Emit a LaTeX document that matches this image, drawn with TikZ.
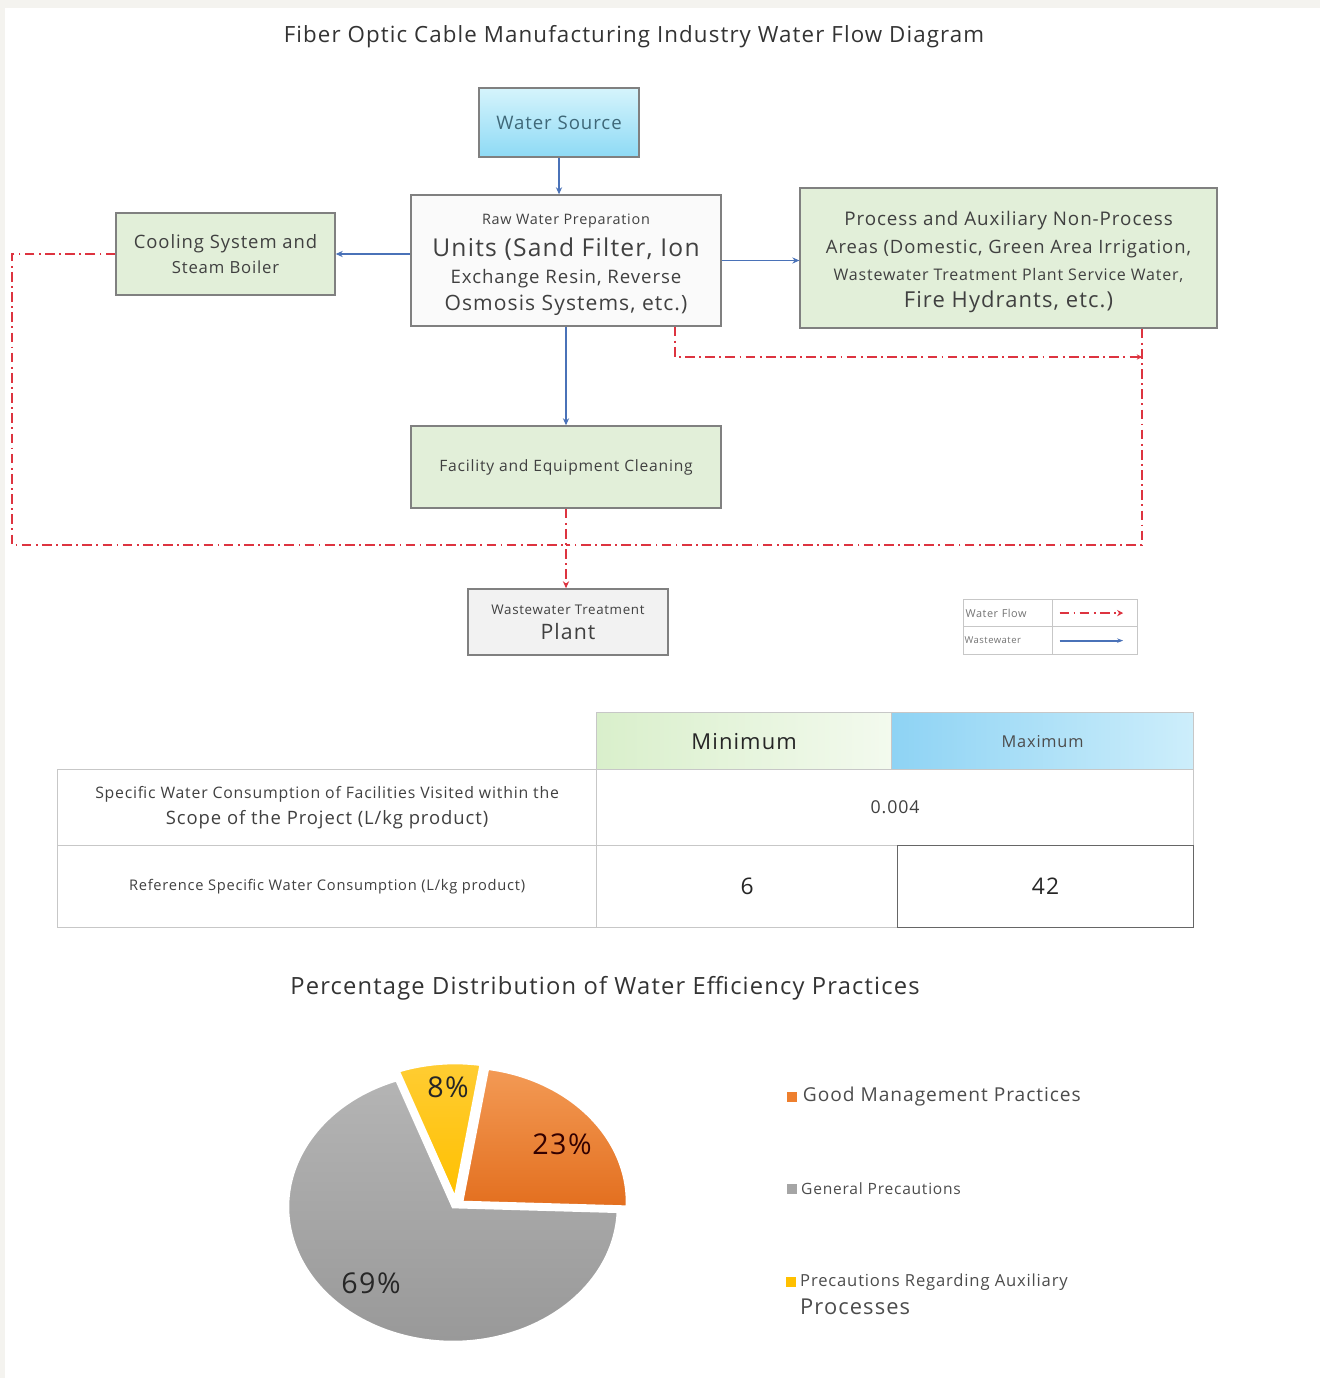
\documentclass[tikz,border=0pt]{standalone}
\usepackage{fontspec}
\setmainfont[LetterSpace=5]{Open Sans}
\usepackage{xcolor}
\usetikzlibrary{positioning, arrows.meta}

\definecolor{flowblue}{HTML}{4A72B8}
\definecolor{wastered}{HTML}{DD3440}
\definecolor{boxgreen}{HTML}{E2EFD9}
\definecolor{pagebeige}{HTML}{F4F3EF}
\definecolor{srctext}{HTML}{3F6878}
\definecolor{srctop}{HTML}{D5F4FC}
\definecolor{srcbottom}{HTML}{8EDAF5}
\definecolor{minleft}{HTML}{D9EFCB}
\definecolor{minright}{HTML}{F3FAEE}
\definecolor{maxleft}{HTML}{8ED3F4}
\definecolor{maxright}{HTML}{CDEEFB}
\definecolor{pieorange}{HTML}{EE7F2E}
\definecolor{orangetop}{HTML}{F39A55}
\definecolor{orangebottom}{HTML}{E36F1F}
\definecolor{piegray}{HTML}{A5A5A5}
\definecolor{graytop}{HTML}{B4B4B4}
\definecolor{graybottom}{HTML}{979797}
\definecolor{pieyellow}{HTML}{FFC000}
\newcommand\fsz[2]{\fontsize{#1}{#2}\selectfont}

\begin{document}
\begin{tikzpicture}[x=0.02cm, y=-0.02cm,
    box/.style={draw=black!50, line width=0.8pt, align=center, text=black!75, inner sep=2pt},
    greenbox/.style={box, fill=boxgreen},
    feed/.style={-{Stealth[length=4pt, width=3.5pt]}, flowblue, line width=1.1pt},
    drain/.style={wastered, line width=1.1pt, dash pattern=on 5.5pt off 2.5pt on 1pt off 2.5pt},
    cell/.style={draw=black!22, line width=0.7pt, anchor=north west, inner sep=0pt, align=center, text=black!75},
    slice/.style={draw=white, line width=1.5pt},
    pct/.style={font=\fsz{16.3}{18}, text=black!85},
    keytext/.style={anchor=west, text=black!70, inner sep=0pt}]
  \useasboundingbox (0,0) rectangle (1320,1378);
  \fill[pagebeige] (0,0) rectangle (1320,1378);
  \fill[white] (5,8) rectangle (1320,1378);

  % flow diagram
  \node[text=black!80, font=\fsz{12.7}{15}] (title) at (634,37)
    {Fiber Optic Cable Manufacturing Industry Water Flow Diagram};
  \node[box, top color=srctop, bottom color=srcbottom, minimum width=3.2cm, minimum height=1.38cm,
    text=srctext, font=\fsz{10.6}{13}] (src) at (559,122.5) {Water Source};
  \node[box, fill=black!2, minimum width=6.2cm, minimum height=2.62cm, font=\fsz{10}{15.5}] (raw) at (566,260.5)
    {\fsz{8.2}{15.5}\rule{0pt}{10.8pt}Raw Water Preparation\\[2.8pt] \fsz{14}{15.5}Units (Sand Filter, Ion\\
     \fsz{10.6}{15.5}Exchange Resin, Reverse\\ \fsz{12}{15.5}Osmosis Systems, etc.)};
  \node[greenbox, minimum width=4.38cm, minimum height=1.64cm, font=\fsz{10}{14.7}] (cool) at (225.5,254)
    {\fsz{10.5}{14.7}Cooling System and\\ \fsz{9.5}{14.7}Steam Boiler};
  \node[greenbox, minimum width=8.34cm, minimum height=2.8cm, font=\fsz{10}{15.5}] (proc) at (1008.5,258)
    {\fsz{10.7}{15.5}\rule{0pt}{12.9pt}Process and Auxiliary Non-Process\\ \fsz{10.5}{15.5}Areas (Domestic, Green Area Irrigation,\\
     \fsz{9.1}{15.5}Wastewater Treatment Plant Service Water,\\ \fsz{12.5}{15.5}Fire Hydrants, etc.)};
  \node[greenbox, minimum width=6.2cm, minimum height=1.64cm, font=\fsz{8.9}{11}] (clean) at (566,467)
    {Facility and Equipment Cleaning};
  \node[box, fill=black!5, minimum width=4cm, minimum height=1.32cm, font=\fsz{10}{14.2}] (wwtp) at (568,622)
    {\fsz{7.6}{14.2}Wastewater Treatment\\ \fsz{12.1}{14.2}Plant};

  \draw[feed] (src.south) -- (src.south |- raw.north);
  \draw[feed] (raw.west |- cool.east) -- (cool.east);
  \draw[feed] (raw.east) -- (raw.east -| proc.west);
  \draw[feed] (raw.south) -- (clean.north);

  \coordinate (jn) at (566,545);
  \coordinate (cornerbl) at (12,545);
  \coordinate (procdrop) at (1142,357);
  \draw[drain] (cool.west) -| (cornerbl) -- (jn);
  \draw[drain, -{Stealth[length=3pt, width=3pt]}] ([xshift=2.18cm]raw.south) |- (procdrop);
  \draw[drain] ([xshift=2.67cm]proc.south) |- (jn);
  \draw[drain, -{Stealth[length=4pt, width=3.5pt]}] (clean.south) -- (clean.south |- wwtp.north);

  % legend of the lines
  \node[cell, minimum width=1.78cm, minimum height=0.54cm, text width=1.7cm, align=left,
    text=black!55, font=\fsz{6.2}{7}] (lgflow) at (963,599) {Water Flow};
  \node[cell, minimum width=1.7cm, minimum height=0.54cm] (lgflowline) at (1052,599) {};
  \node[cell, minimum width=1.78cm, minimum height=0.56cm, text width=1.74cm, align=left,
    text=black!55, font=\fsz{5.4}{6}] (lgwaste) at (963,626) {Wastewater};
  \node[cell, minimum width=1.7cm, minimum height=0.56cm] (lgwasteline) at (1052,626) {};
  \draw[drain, -{Stealth[length=3.5pt, width=3.5pt]}] ([xshift=0.15cm]lgflowline.west) -- ([xshift=-0.3cm]lgflowline.east);
  \draw[feed, -{Stealth[length=3.5pt, width=2.5pt]}] ([xshift=0.15cm]lgwasteline.west) -- ([xshift=-0.3cm]lgwasteline.east);

  % consumption table
  \node[cell, left color=minleft, right color=minright, minimum width=5.9cm, minimum height=1.14cm,
    font=\fsz{12.5}{14}, text=black!85] (cmin) at (596,712) {Minimum};
  \node[cell, left color=maxleft, right color=maxright, minimum width=6.04cm, minimum height=1.14cm,
    font=\fsz{9.3}{11}, text=black!70] (cmax) at (891,712) {Maximum};
  \node[cell, minimum width=10.78cm, minimum height=1.52cm, font=\fsz{9}{15.3}] (cspec) at (57,769)
    {\fsz{9}{15.3}Specific Water Consumption of Facilities Visited within the\\
     \fsz{10.5}{15.3}Scope of the Project (L/kg product)};
  \node[cell, minimum width=11.94cm, minimum height=1.52cm, font=\fsz{10.1}{12}] (cval) at (596,769) {0.004};
  \node[cell, minimum width=10.78cm, minimum height=1.64cm, font=\fsz{8.35}{10}] (cref) at (57,845)
    {Reference Specific Water Consumption (L/kg product)};
  \node[cell, minimum width=6.02cm, minimum height=1.64cm, font=\fsz{13}{15}, text=black!85] (csix) at (596,845) {6};
  \node[cell, draw=black!60, minimum width=5.92cm, minimum height=1.64cm, font=\fsz{13}{15}, text=black!85]
    (cfortytwo) at (897,845) {42};

  % pie chart
  \node[text=black!80, font=\fsz{13.5}{16}] (pietitle) at (605,988)
    {Percentage Distribution of Water Efficiency Practices};
  \coordinate (cgray) at (453,1207);
  \coordinate (corange) at (462,1202);
  \coordinate (cyellow) at (455,1198);
  \path[slice, top color=graytop, bottom color=graybottom] (cgray) -- ++(-110:165 and 135)
    arc[start angle=-110, end angle=-358, x radius=165, y radius=135] -- cycle;
  \path[slice, top color=orangetop, bottom color=orangebottom] (corange) -- ++(2:165 and 135)
    arc[start angle=2, end angle=-81, x radius=165, y radius=135] -- cycle;
  \path[slice, top color=pieyellow!80!white, bottom color=pieyellow] (cyellow) -- ++(-81:165 and 135)
    arc[start angle=-81, end angle=-110, x radius=165, y radius=135] -- cycle;
  \node[pct] (pctyellow) at (448,1087) {8\%};
  \node[pct, text=black!80!red] (pctorange) at (562,1144) {23\%};
  \node[pct] (pctgray) at (371,1283) {69\%};

  \node[fill=pieorange, minimum size=0.2cm, inner sep=0pt] (sqgood) at (792,1097) {};
  \node[keytext, right=3pt of sqgood, font=\fsz{10.9}{13}] (keygood) {Good Management Practices};
  \node[fill=piegray, minimum size=0.2cm, inner sep=0pt] (sqgeneral) at (792,1189) {};
  \node[keytext, right=2pt of sqgeneral, font=\fsz{8.85}{10}] (keygeneral) {General Precautions};
  \node[fill=pieyellow, minimum size=0.2cm, inner sep=0pt] (sqaux) at (791,1282) {};
  \node[keytext, right=2pt of sqaux, font=\fsz{9.45}{11}] (keyaux) {Precautions Regarding Auxiliary};
  \node[keytext, anchor=north west, font=\fsz{12.45}{14}] (keyauxtwo) at ([yshift=-0.16cm]keyaux.south west) {Processes};
\end{tikzpicture}
\end{document}
